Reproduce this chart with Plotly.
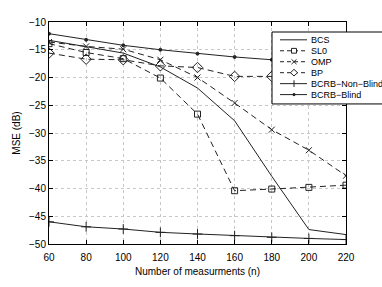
import plotly.graph_objects as go

n = [60, 80, 100, 120, 140, 160, 180, 200, 220]
bcs = [-13.3, -14.5, -15.6, -18.1, -21.9, -27.8, -37.8, -47.4, -48.3]
sl0 = [-13.9, -15.5, -16.6, -20.1, -26.6, -40.4, -40.1, -39.8, -39.4]
omp = [-13.6, -14.4, -14.9, -16.8, -20.0, -24.6, -29.4, -33.1, -37.7]
bp = [-15.6, -16.7, -16.8, -17.9, -18.2, -19.8, -19.8, -19.6, -19.3]
crb_nb = [-46.0, -46.9, -47.3, -47.9, -48.2, -48.5, -48.8, -49.0, -49.2]
crb_b = [-12.1, -13.2, -14.2, -15.0, -15.7, -16.3, -16.8, -17.2, -17.6]

names = ["BCS", "SL0", "OMP", "BP", "BCRB\u2212Non\u2212Blind", "BCRB\u2212Blind"]

LC = "#222"
DASH = "6px,4px"
series = [
    (bcs, "solid", None, 0),
    (sl0, DASH, "square-open", 6),
    (omp, DASH, "x-thin-open", 6),
    (bp, DASH, "diamond-open", 8),
    (crb_nb, "solid", "cross-thin-open", 7),
    (crb_b, "solid", "circle", 3),
]

fig = go.Figure()
for (vals, dash, sym, sz), nm in zip(series, names):
    fig.add_trace(go.Scatter(
        x=n, y=vals, name=nm,
        mode="lines+markers" if sym else "lines",
        line=dict(color=LC, width=1, dash=dash),
        marker=dict(symbol=sym or "circle", size=sz, color=LC,
                    line=dict(color=LC, width=1)),
        showlegend=False,
    ))

# custom legend (paper coordinates derived from plot-area pixels)
L, R, T, B = 49, 346, 22, 255
def px(x):
    return (x - L) / (R - L)
def py(y):
    return (B - y) / (B - T)

shapes = [dict(type="rect", xref="paper", yref="paper",
               x0=px(272), x1=px(384), y0=py(108), y1=py(32.5),
               line=dict(color="black", width=1), fillcolor="white", layer="above")]
annotations = []
rows = [40.7, 52.2, 63.7, 75.2, 86.7, 98.2]
for (vals, dash, sym, sz), nm, ry in zip(series, names, rows):
    shapes.append(dict(type="line", xref="paper", yref="paper",
                       x0=px(280), x1=px(307), y0=py(ry), y1=py(ry),
                       line=dict(color=LC, width=1, dash=("4px,3px" if dash != "solid" else "solid")),
                       layer="above"))
    cx, cy = 294, ry
    h = 2.5
    if sym == "square-open":
        shapes.append(dict(type="rect", xref="paper", yref="paper",
                           x0=px(cx - h), x1=px(cx + h), y0=py(cy + h), y1=py(cy - h),
                           line=dict(color=LC, width=1), fillcolor="white", layer="above"))
    elif sym == "x-thin-open":
        for a, b in [((cx - h, cy - h), (cx + h, cy + h)), ((cx - h, cy + h), (cx + h, cy - h))]:
            shapes.append(dict(type="line", xref="paper", yref="paper",
                               x0=px(a[0]), y0=py(a[1]), x1=px(b[0]), y1=py(b[1]),
                               line=dict(color=LC, width=1), layer="above"))
    elif sym == "diamond-open":
        d = 3.5
        path = "M {} {} L {} {} L {} {} L {} {} Z".format(
            px(cx), py(cy - d), px(cx + d), py(cy), px(cx), py(cy + d), px(cx - d), py(cy))
        shapes.append(dict(type="path", xref="paper", yref="paper", path=path,
                           line=dict(color=LC, width=1), fillcolor="white", layer="above"))
    elif sym == "cross-thin-open":
        shapes.append(dict(type="line", xref="paper", yref="paper",
                           x0=px(cx), x1=px(cx), y0=py(cy - 3.5), y1=py(cy + 3.5),
                           line=dict(color=LC, width=1), layer="above"))
    elif sym == "circle":
        shapes.append(dict(type="circle", xref="paper", yref="paper",
                           x0=px(cx - 1.2), x1=px(cx + 1.2), y0=py(cy + 1.2), y1=py(cy - 1.2),
                           line=dict(color=LC, width=1), fillcolor=LC, layer="above"))
    annotations.append(dict(xref="paper", yref="paper", x=px(309), y=py(ry),
                            xanchor="left", yanchor="middle", showarrow=False,
                            text=nm, font=dict(size=9, color="black")))

axis_common = dict(
    showline=True, linecolor="black", linewidth=1, mirror="ticks",
    ticks="inside", ticklen=4, tickcolor="black",
    showgrid=True, gridcolor="#c8c8c8", griddash="dot", gridwidth=1,
    zeroline=False, tickfont=dict(size=10, color="black"),
)

fig.update_layout(
    width=382, height=287,
    margin=dict(l=L, r=382 - R, t=T, b=287 - B),
    paper_bgcolor="white", plot_bgcolor="white",
    font=dict(family="Liberation Sans, Arial, sans-serif", size=10, color="black"),
    xaxis=dict(range=[60, 220], tickvals=[60, 80, 100, 120, 140, 160, 180, 200, 220],
               ticklabelstandoff=4,
               title=dict(text="Number of measurments (n)", font=dict(size=10), standoff=5),
               **axis_common),
    yaxis=dict(range=[-50, -10], tickvals=[-50, -45, -40, -35, -30, -25, -20, -15, -10],
               title=dict(text="MSE (dB)", font=dict(size=10), standoff=6),
               **axis_common),
    shapes=shapes, annotations=annotations,
)

fig.write_html("out.html", config={"displayModeBar": False},
               post_script="document.body.style.margin='0';")
